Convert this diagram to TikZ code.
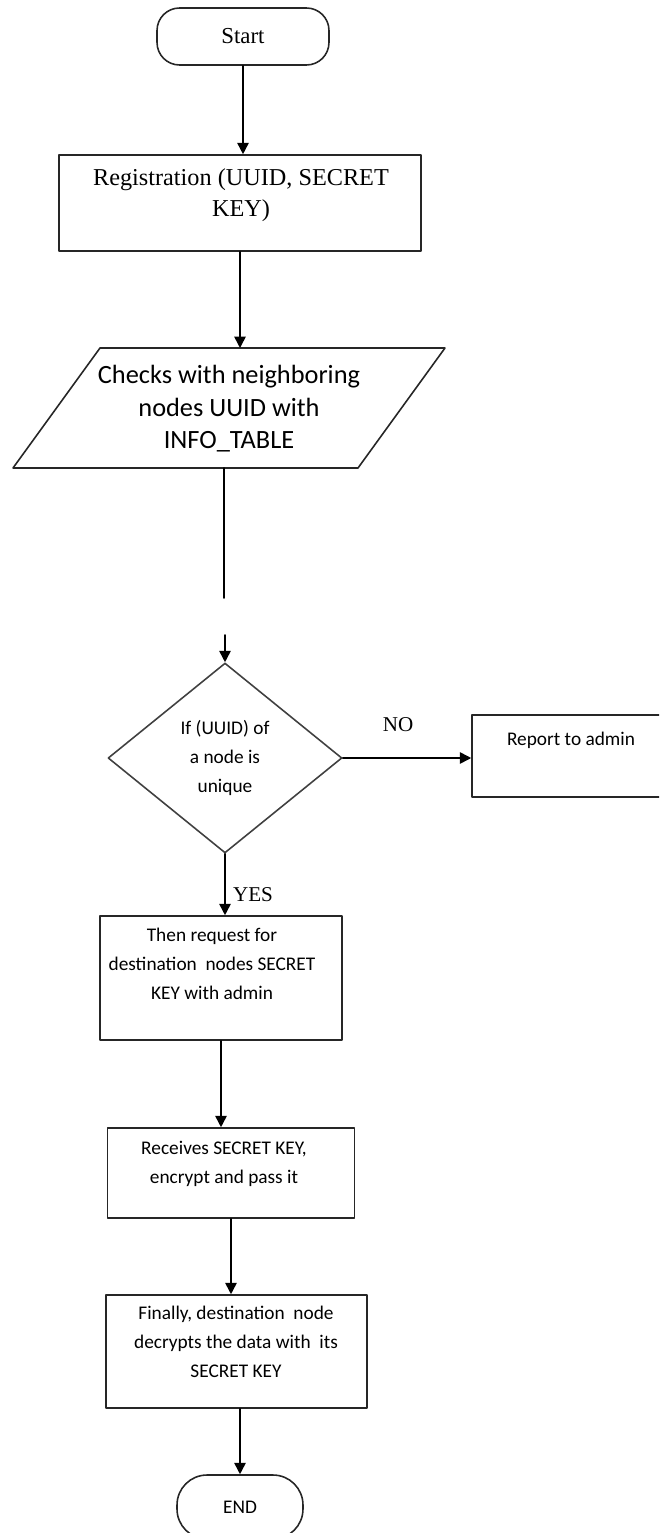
\documentclass[tikz,border=0pt]{standalone}
\usepackage{fontspec}
\setmainfont{Liberation Serif}
\newfontfamily\calibri{Carlito}
\usetikzlibrary{arrows.meta}
\usetikzlibrary{shapes.geometric}

\tikzset{
  box/.style={draw=black!85, line width=0.9pt, rectangle, inner sep=0pt},
  term/.style={box, rounded corners=0.45cm},
  serif/.style={align=center, inner sep=0pt, font=\fontsize{13.8}{17.6}\selectfont},
  small/.style={align=center, inner sep=0pt, font=\calibri\fontsize{11}{16.4}\selectfont},
  big/.style={align=center, inner sep=0pt, font=\calibri\fontsize{15}{18.5}\selectfont},
  arr/.style={-{Triangle[length=6.5pt,width=6.5pt]}, line width=0.9pt},
}

\begin{document}
\begin{tikzpicture}[x=0.02cm, y=-0.02cm, line cap=round, line join=round]
  \useasboundingbox (0,0) rectangle (659,1533);
  \clip (0,0) rectangle (659,1533);
  %--- Start
    \node[term, minimum width=3.44cm, minimum height=1.14cm,
          font=\fontsize{13}{16}\selectfont] (start) at (243,36.5) {Start};
  %--- Registration
    \node[box, minimum width=7.24cm, minimum height=1.92cm] (reg) at (240,203) {};
    \node[serif] (regtxt) at (241,195.5) {Registration (UUID, SECRET\\KEY)};
    \draw[arr] (start.south) -- (start.south |- reg.north);
  %--- Checks with INFO_TABLE
    \coordinate (chkbl) at (13,468);
    \coordinate (chkbr) at (358,468);
    \coordinate (chktr) at (445,348);
    \coordinate (chktl) at (100,348);
    \draw[draw=black!85, line width=0.9pt] (chkbl) -- (chkbr) -- (chktr) -- (chktl) -- cycle;
    \node[big] (chk) at (229,409) {Checks with neighboring\\nodes UUID with\\INFO\_TABLE};
    \draw[arr] (reg.south) -- (reg.south |- chktl);
  %--- broken line down to the test
    \coordinate (chkout) at (224,468);
    \coordinate (gapA) at (224,598);
    \coordinate (gapB) at (225,635);
    \draw[line width=0.9pt] (chkout) -- (gapA);
  %--- UUID unique?
    \node[diamond, draw=black!75, line width=0.9pt, inner sep=0pt,
          minimum width=4.68cm, minimum height=3.8cm, small] (dec) at (225,758)
          {If (UUID) of\\a node is\\unique};
    \draw[arr] (gapB) -- (dec.north);
  %--- NO
    \node[box, minimum width=4.16cm, minimum height=1.64cm] (rep) at (576,756) {};
    \node[small] (reptxt) at (571,740) {Report to admin};
    \draw[arr] (dec.east) -- (dec.east -| rep.west);
    \node[font=\fontsize{12}{14}\selectfont, inner sep=0pt] (no) at (398,725) {NO};
  %--- YES
    \node[box, minimum width=4.84cm, minimum height=2.48cm] (req) at (221,978) {};
    \node[small] (reqtxt) at (212,964) {Then request for\\destination\ \ nodes SECRET\\KEY with admin};
    \draw[arr] (dec.south) -- (dec.south |- req.north);
    \node[font=\fontsize{12}{14}\selectfont, inner sep=0pt] (yes) at (253,895) {YES};
  %--- Receives
    \node[box, minimum width=4.94cm, minimum height=1.8cm] (recv) at (231,1173) {};
    \node[small] (recvtxt) at (224,1164) {Receives SECRET KEY,\\encrypt and pass it};
    \draw[arr] (req.south) -- (req.south |- recv.north);
  %--- Finally
    \node[box, minimum width=5.22cm, minimum height=2.26cm] (fin) at (236.5,1351.5) {};
    \node[small] (fintxt) at (236,1342) {Finally, destination\ \ node\\decrypts the data\ with\ \ its\\SECRET KEY};
    \draw[arr] (recv.south) -- (recv.south |- fin.north);
  %--- END
    \node[term, rounded corners=0.6cm, minimum width=2.52cm, minimum height=1.28cm,
          font=\calibri\fontsize{11}{13}\selectfont] (end) at (240,1507) {END};
    \draw[arr] (end.north |- fin.south) -- (end.north);
\end{tikzpicture}
\end{document}
